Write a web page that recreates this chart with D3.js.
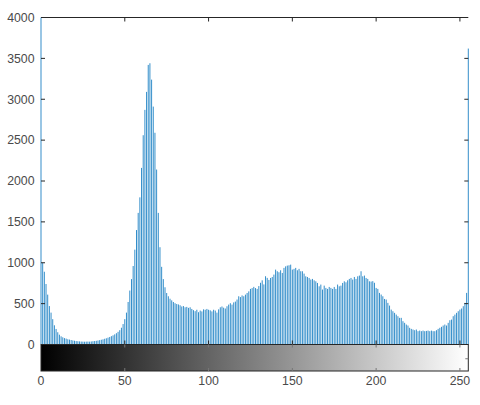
<!DOCTYPE html>
<html>
<head>
<meta charset="utf-8">
<script src="https://cdn.jsdelivr.net/npm/d3@7"></script>
<style>
  html, body { margin: 0; padding: 0; background: #fff; }
  svg { display: block; }
  text { font-family: "Liberation Sans", Arial, Helvetica, sans-serif; font-size: 12.3px; fill: #4a4a4a; }
</style>
</head>
<body>
<div id="chart"></div>
<script>
// pixel counts per grey level 0..255
const counts = [
  4400, 1000, 890, 740, 610, 470, 390, 310, 235, 190,
  150, 120, 100, 88, 78, 72, 64, 60, 55, 50,
  46, 42, 40, 38, 36, 35, 34, 35, 36, 35,
  37, 40, 42, 45, 49, 53, 58, 63, 70, 76,
  84, 92, 102, 112, 124, 138, 155, 175, 205, 250,
  310, 390, 520, 660, 800, 960, 1160, 1400, 1610, 1800,
  2160, 2560, 2870, 3090, 3420, 3440, 3240, 2910, 2590, 2140,
  1610, 1190, 950, 800, 700, 630, 590, 560, 540, 520,
  505, 495, 490, 480, 465, 470, 455, 460, 448, 455,
  435, 420, 408, 425, 395, 415, 405, 430, 425, 435,
  425, 418, 405, 425, 415, 390, 430, 455, 465, 450,
  440, 468, 488, 505, 488, 515, 525, 550, 590, 580,
  600, 590, 610, 630, 650, 680, 690, 705, 690, 680,
  715, 755, 785, 735, 835, 815, 790, 814, 826, 855,
  916, 896, 884, 908, 875, 937, 956, 965, 969, 977,
  916, 925, 937, 908, 925, 896, 896, 867, 834, 826,
  814, 794, 802, 785, 773, 753, 712, 733, 672, 720,
  692, 680, 704, 692, 680, 704, 680, 733, 712, 720,
  753, 773, 761, 785, 802, 814, 794, 826, 802, 834,
  843, 896, 834, 843, 814, 802, 773, 770, 775, 755,
  692, 680, 631, 611, 590, 557, 550, 509, 476, 427,
  407, 387, 366, 346, 326, 326, 285, 265, 244, 232,
  204, 191, 183, 175, 183, 163, 170, 163, 170, 163,
  166, 170, 163, 170, 163, 163, 175, 191, 204, 216,
  232, 244, 232, 265, 297, 305, 346, 366, 387, 407,
  427, 440, 468, 509, 631, 3620
];
const yTicks = [0, 500, 1000, 1500, 2000, 2500, 3000, 3500, 4000];
const xTicks = [0, 50, 100, 150, 200, 250];

const W = 480, H = 405;
const plot = { left: 41, right: 468.3, top: 17.5, bottom: 344.5 };
const bar = { top: 344.5, bottom: 371 };
const axisColor = "#262626";
const stemColor = "#0072BD";

const x = d3.scaleLinear().domain([0, 255]).range([plot.left, plot.right]);
const y = d3.scaleLinear().domain([0, 4000]).range([plot.bottom, plot.top]);

const svg = d3.select("#chart")
  .append("svg")
  .attr("width", W)
  .attr("height", H)
  .attr("viewBox", `0 0 ${W} ${H}`);

const defs = svg.append("defs");
defs.append("clipPath")
  .attr("id", "plotclip")
  .append("rect")
  .attr("x", plot.left - 1)
  .attr("y", plot.top)
  .attr("width", plot.right - plot.left + 2)
  .attr("height", plot.bottom - plot.top);

const grad = defs.append("linearGradient")
  .attr("id", "grey")
  .attr("x1", "0%").attr("x2", "100%")
  .attr("y1", "0%").attr("y2", "0%");
grad.append("stop").attr("offset", "0%").attr("stop-color", "#000");
grad.append("stop").attr("offset", "100%").attr("stop-color", "#fff");

// stems
svg.append("g")
  .attr("clip-path", "url(#plotclip)")
  .selectAll("line")
  .data(counts)
  .join("line")
  .attr("x1", (d, i) => x(i))
  .attr("x2", (d, i) => x(i))
  .attr("y1", y(0))
  .attr("y2", d => y(d))
  .attr("stroke", stemColor)
  .attr("stroke-opacity", 0.8)
  .attr("stroke-width", 1);

// histogram axes box
const box = svg.append("g").attr("fill", "none").attr("stroke", axisColor).attr("stroke-width", 1);
box.append("line").attr("x1", plot.left).attr("x2", plot.right).attr("y1", plot.top).attr("y2", plot.top);
box.append("line").attr("x1", plot.left).attr("x2", plot.right).attr("y1", plot.bottom).attr("y2", plot.bottom);

// y ticks (left and right, pointing in)
const yt = svg.append("g");
yt.selectAll("line.l")
  .data(yTicks.slice(1, -1))
  .join("line")
  .attr("class", "l")
  .attr("x1", plot.left).attr("x2", plot.left + 4)
  .attr("y1", d => y(d)).attr("y2", d => y(d))
  .attr("stroke", axisColor);
yt.selectAll("line.r")
  .data(yTicks.slice(1, -1))
  .join("line")
  .attr("class", "r")
  .attr("x1", plot.right).attr("x2", plot.right - 4)
  .attr("y1", d => y(d)).attr("y2", d => y(d))
  .attr("stroke", axisColor);
yt.selectAll("text")
  .data(yTicks)
  .join("text")
  .attr("x", plot.left - 6.5)
  .attr("y", d => y(d) + 1)
  .attr("text-anchor", "end")
  .attr("dominant-baseline", "middle")
  .text(d => d);

// x ticks on histogram axes (top and bottom, pointing in)
const xt = svg.append("g").attr("stroke", axisColor);
xt.selectAll("line.t")
  .data(xTicks.slice(1))
  .join("line")
  .attr("class", "t")
  .attr("x1", d => x(d)).attr("x2", d => x(d))
  .attr("y1", plot.top).attr("y2", plot.top + 4);
xt.selectAll("line.b")
  .data(xTicks.slice(1))
  .join("line")
  .attr("class", "b")
  .attr("x1", d => x(d)).attr("x2", d => x(d))
  .attr("y1", plot.bottom).attr("y2", plot.bottom - 4);

// grey-level colour bar
svg.append("rect")
  .attr("x", x(0))
  .attr("y", bar.top)
  .attr("width", x(255) - x(0))
  .attr("height", bar.bottom - bar.top)
  .attr("fill", "url(#grey)")
  .attr("stroke", axisColor)
  .attr("stroke-width", 1);

const ct = svg.append("g").attr("stroke", "#777");
ct.selectAll("line.t")
  .data(xTicks.slice(1))
  .join("line")
  .attr("class", "t")
  .attr("x1", d => x(d)).attr("x2", d => x(d))
  .attr("y1", bar.top).attr("y2", bar.top + 3);
ct.selectAll("line.b")
  .data(xTicks.slice(1))
  .join("line")
  .attr("class", "b")
  .attr("x1", d => x(d)).attr("x2", d => x(d))
  .attr("y1", bar.bottom).attr("y2", bar.bottom - 3);
ct.append("line")
  .attr("x1", plot.right).attr("x2", plot.right - 3)
  .attr("y1", (bar.top + bar.bottom) / 2 + 1).attr("y2", (bar.top + bar.bottom) / 2 + 1);

svg.append("g")
  .selectAll("text")
  .data(xTicks)
  .join("text")
  .attr("x", d => x(d))
  .attr("y", bar.bottom + 14)
  .attr("text-anchor", "middle")
  .text(d => d);
</script>
</body>
</html>
